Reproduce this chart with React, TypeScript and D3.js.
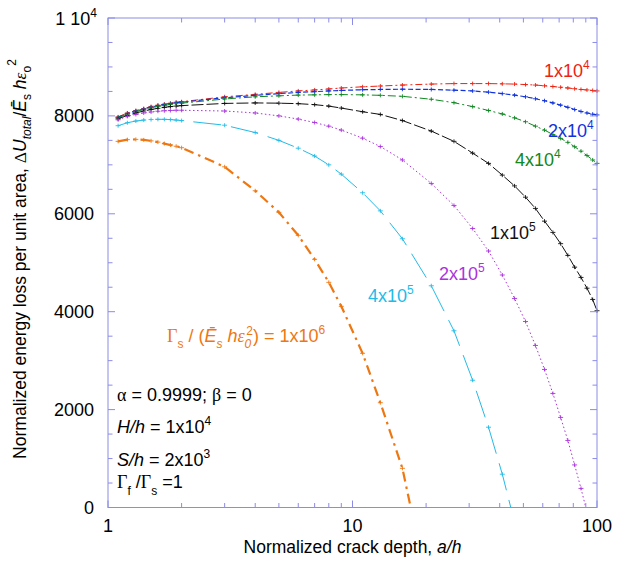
import React from 'react';
import * as d3 from 'd3';

// crack depth grid (a/h)
const aFull = [1.1, 1.2, 1.3, 1.4, 1.5, 1.6, 1.7, 1.8, 1.9, 2, 3, 4, 5, 6, 7, 8, 9, 11, 13, 16, 21, 26, 31, 36, 41, 46, 51, 56, 61, 66, 71, 76, 81, 86, 91, 96, 100];
const aPurple = [1.1, 1.2, 1.3, 1.4, 1.5, 1.6, 1.7, 1.8, 1.9, 2, 3, 4, 5, 6, 7, 8, 9, 11, 13, 16, 21, 26, 31, 36, 41, 46, 51, 56, 61, 66, 71, 76, 81, 86, 90];
const aCyan = [1.1, 1.2, 1.3, 1.4, 1.5, 1.6, 1.7, 1.8, 1.9, 2, 3, 4, 5, 6, 7, 8, 9, 11, 13, 16, 21, 26, 31, 36, 41, 44.4];
const aOrange = [1.1, 1.2, 1.3, 1.4, 1.5, 1.6, 1.7, 1.8, 1.9, 2, 3, 4, 5, 6, 7, 8, 9, 11, 13, 16, 17.3];

const vRed = [7980, 8060, 8110, 8150, 8190, 8220, 8240, 8260, 8280, 8290, 8390, 8440, 8480, 8510, 8530, 8550, 8570, 8595, 8610, 8630, 8650, 8660, 8660, 8660, 8655, 8650, 8640, 8630, 8615, 8600, 8585, 8570, 8555, 8540, 8530, 8520, 8510];
const vBlue = [7970, 8050, 8100, 8140, 8180, 8210, 8230, 8250, 8270, 8280, 8370, 8420, 8455, 8480, 8495, 8510, 8520, 8535, 8540, 8545, 8540, 8525, 8510, 8485, 8455, 8425, 8390, 8350, 8310, 8265, 8220, 8175, 8130, 8090, 8060, 8035, 8020];
const vGreen = [7960, 8040, 8090, 8130, 8165, 8195, 8215, 8235, 8250, 8260, 8345, 8390, 8410, 8425, 8430, 8435, 8435, 8430, 8420, 8400, 8340, 8270, 8190, 8110, 8040, 7960, 7880, 7790, 7710, 7620, 7540, 7460, 7370, 7280, 7190, 7100, 7030];
const vBlack = [7940, 8010, 8060, 8100, 8130, 8155, 8175, 8190, 8200, 8210, 8255, 8265, 8260, 8250, 8230, 8200, 8160, 8085, 8030, 7905, 7690, 7480, 7240, 7030, 6790, 6570, 6340, 6110, 5850, 5620, 5390, 5150, 4910, 4700, 4480, 4250, 4020];
const vPurple = [7920, 7990, 8030, 8060, 8080, 8095, 8105, 8110, 8115, 8115, 8100, 8060, 8000, 7935, 7865, 7790, 7710, 7545, 7374, 7100, 6620, 6170, 5700, 5240, 4750, 4270, 3800, 3310, 2820, 2330, 1840, 1370, 870, 390, 0];
const vCyan = [7800, 7860, 7895, 7915, 7925, 7930, 7930, 7925, 7915, 7905, 7810, 7660, 7500, 7340, 7180, 7000, 6810, 6430, 6060, 5490, 4530, 3610, 2600, 1640, 680, 0];
const vOrange = [7480, 7515, 7520, 7510, 7490, 7465, 7435, 7405, 7380, 7350, 6960, 6470, 6030, 5560, 5070, 4600, 4110, 3150, 2140, 800, 0];

const xMajor = [1, 10, 100];
const xMinor = [2, 3, 4, 5, 6, 7, 8, 9, 20, 30, 40, 50, 60, 70, 80, 90];
const yLabels = [0, 2000, 4000, 6000, 8000];

const series = [
  { a: aFull, v: vRed, color: '#ee2211', dash: '7,3,2,3', w: 1 },
  { a: aFull, v: vBlue, color: '#1133dd', dash: '5,2.5', w: 1.2 },
  { a: aFull, v: vGreen, color: '#118822', dash: '8,3,2,3', w: 1 },
  { a: aFull, v: vBlack, color: '#111111', dash: '12,3', w: 1 },
  { a: aPurple, v: vPurple, color: '#aa33dd', dash: '1.5,2.5', w: 1 },
  { a: aCyan, v: vCyan, color: '#22bbe8', dash: '28,10', w: 1 },
  { a: aOrange, v: vOrange, color: '#ee7711', dash: '10,5,2.5,5', w: 2.2 },
];

const FONT = 'Liberation Sans, Arial, sans-serif';
const SERIF = 'Liberation Serif, Times New Roman, serif';
const AX = '#8c8ce6';

export default function App() {
  const L = 108, R = 597, T = 18, B = 507.5;
  const x = d3.scaleLog().domain([1, 100]).range([L, R]);
  const y = d3.scaleLinear().domain([0, 10000]).range([B, T]);
  const line = d3.line<[number, number]>().x(d => x(d[0])).y(d => y(d[1]));
  const yMinor = d3.range(0, 10001, 500);

  return (
    <svg width={617} height={568} style={{ position: 'absolute', left: 0, top: 0, background: '#fff' }} fontFamily={FONT}>
      <rect x={0} y={0} width={617} height={568} fill="#fff" />
      {/* curves */}
      <g fill="none">
        {series.map((s, i) => {
          const pts = s.a.map((a, j) => [a, s.v[j]] as [number, number]);
          return (
            <g key={i} stroke={s.color}>
              <path d={line(pts) || ''} strokeWidth={s.w} strokeDasharray={s.dash} />
              {pts.filter(p => p[1] > 0).map((p, j) => (
                <path key={j} d={`M${x(p[0]) - 2.5},${y(p[1])}h5M${x(p[0])},${y(p[1]) - 2}v4`} strokeWidth={0.9} />
              ))}
            </g>
          );
        })}
      </g>
      {/* frame */}
      <g stroke={AX} strokeWidth={1} fill="none">
        <rect x={L} y={T} width={R - L} height={B - T} />
        {yMinor.map(v => {
          const len = v % 2000 === 0 ? 7 : 4.5;
          return (
            <g key={v}>
              <line x1={L} x2={L + len} y1={y(v)} y2={y(v)} />
              <line x1={R} x2={R - len} y1={y(v)} y2={y(v)} />
            </g>
          );
        })}
        {xMinor.map(v => (
          <g key={v}>
            <line x1={x(v)} x2={x(v)} y1={B} y2={B - 4.5} />
            <line x1={x(v)} x2={x(v)} y1={T} y2={T + 4.5} />
          </g>
        ))}
        {xMajor.map(v => (
          <g key={v}>
            <line x1={x(v)} x2={x(v)} y1={B} y2={B - 7} />
            <line x1={x(v)} x2={x(v)} y1={T} y2={T + 7} />
          </g>
        ))}
      </g>
      {/* tick labels */}
      <g fontSize={18} fill="#000">
        {xMajor.map(v => (
          <text key={v} x={x(v)} y={532} textAnchor="middle">{v}</text>
        ))}
        {yLabels.map(v => (
          <text key={v} x={94} y={y(v) + 6.5} textAnchor="end">{v}</text>
        ))}
        <text x={97} y={y(10000) + 6.5} textAnchor="end">1 10<tspan fontSize={12} dy={-8}>4</tspan></text>
      </g>
      {/* axis titles */}
      <text x={(L + R) / 2} y={553} textAnchor="middle" fontSize={17.5}>
        Normalized crack depth, <tspan fontStyle="italic">a/h</tspan>
      </text>
      <text transform="translate(26,259) rotate(-90)" textAnchor="middle" fontSize={17.5}>
        Normalized energy loss per unit area, <tspan fontFamily={SERIF}>Δ</tspan><tspan fontStyle="italic">U</tspan>
        <tspan fontSize={12} fontStyle="italic" dy={5}>total</tspan>
        <tspan dy={-5}>/</tspan><tspan fontStyle="italic">Ē</tspan>
        <tspan fontSize={12} dy={5}>s</tspan>
        <tspan dy={-5} fontStyle="italic"> h</tspan><tspan fontFamily={SERIF} fontStyle="italic">ε</tspan>
        <tspan fontSize={12} dy={5}>o</tspan>
        <tspan fontSize={12} dy={-15}>2</tspan>
      </text>
      {/* curve labels */}
      <g fontSize={18}>
        <text x={544} y={77} fill="#ee2211">1x10<tspan fontSize={12} dy={-8}>4</tspan></text>
        <text x={548} y={137} fill="#1133dd">2x10<tspan fontSize={12} dy={-8}>4</tspan></text>
        <text x={515} y={166} fill="#118822">4x10<tspan fontSize={12} dy={-8}>4</tspan></text>
        <text x={490} y={239} fill="#111">1x10<tspan fontSize={12} dy={-8}>5</tspan></text>
        <text x={439} y={280} fill="#aa33dd">2x10<tspan fontSize={12} dy={-8}>5</tspan></text>
        <text x={368} y={302} fill="#22bbe8">4x10<tspan fontSize={12} dy={-8}>5</tspan></text>
        <text x={167} y={342} fill="#ee7711">
          <tspan fontFamily={SERIF}>Γ</tspan>
          <tspan fontSize={12} dy={6}>s</tspan>
          <tspan dy={-6}>  /  (</tspan>
          <tspan fontStyle="italic">Ē</tspan>
          <tspan fontSize={12} fontStyle="italic" dy={6}>s</tspan>
          <tspan dy={-6} fontStyle="italic"> h</tspan>
          <tspan fontFamily={SERIF} fontStyle="italic">ε</tspan>
          <tspan fontSize={12} fontStyle="italic" dy={6}>0</tspan>
          <tspan fontSize={12} dx={-5} dy={-13}>2</tspan>
          <tspan dy={7}>) = 1x10</tspan>
          <tspan fontSize={12} dy={-8}>6</tspan>
        </text>
      </g>
      {/* annotations */}
      <g fontSize={18} fill="#000">
        <text x={117} y={401}>
          <tspan fontFamily={SERIF}>α</tspan> = 0.9999; <tspan fontFamily={SERIF}>β</tspan> = 0
        </text>
        <text x={117} y={433}>
          <tspan fontStyle="italic">H/h</tspan> = 1x10<tspan fontSize={12} dy={-8}>4</tspan>
        </text>
        <text x={117} y={466}>
          <tspan fontStyle="italic">S/h</tspan> = 2x10<tspan fontSize={12} dy={-8}>3</tspan>
        </text>
        <text x={117} y={488}>
          <tspan fontFamily={SERIF}>Γ</tspan>
          <tspan fontSize={12} dy={7}>f</tspan>
          <tspan dy={-7}> /</tspan>
          <tspan fontFamily={SERIF}>Γ</tspan>
          <tspan fontSize={12} dy={7}>s</tspan>
          <tspan dy={-7}> =1</tspan>
        </text>
      </g>
    </svg>
  );
}
